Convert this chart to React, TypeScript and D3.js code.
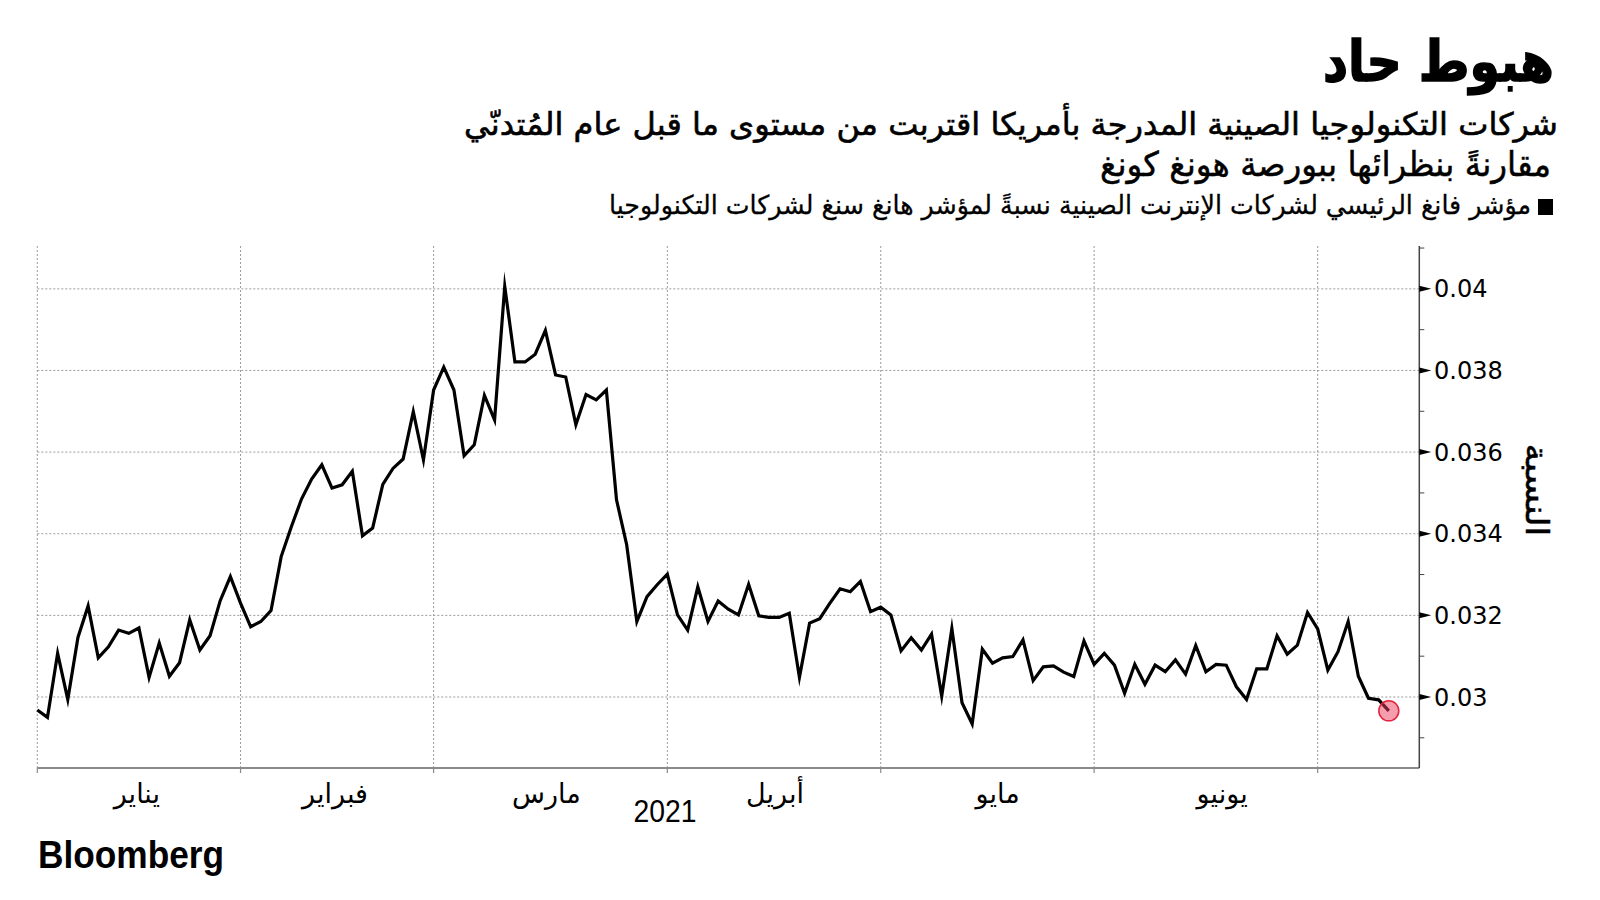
import React from 'react';
import * as d3 from 'd3';

const title = 'هبوط حاد';
const subtitle1 = 'شركات التكنولوجيا الصينية المدرجة بأمريكا اقتربت من مستوى ما قبل عام المُتدنّي';
const subtitle2 = 'مقارنةً بنظرائها ببورصة هونغ كونغ';
const legendLabel = 'مؤشر فانغ الرئيسي لشركات الإنترنت الصينية نسبةً لمؤشر هانغ سنغ لشركات التكنولوجيا';
const yTitle = 'النسبة';
const yearLabel = '2021';
const source = 'Bloomberg';

const monthLabels = ['يناير', 'فبراير', 'مارس', 'أبريل', 'مايو', 'يونيو'];
// trading-day index at which each month starts (last = start of July)
const monthStarts = [0, 20, 39, 62, 83, 104, 126];
// trading-day index of each month's midpoint (label position)
const monthMids = [9.8, 29.3, 50.1, 72.6, 94.5, 116.6];

const yTicks = [0.03, 0.032, 0.034, 0.036, 0.038, 0.04];
const yMinorTicks = [0.029, 0.031, 0.033, 0.035, 0.037, 0.039, 0.041];

const ratio = [
  0.02968, 0.02950, 0.03107, 0.02994, 0.03146, 0.03223, 0.03096, 0.03123, 0.03164, 0.03156,
  0.03169, 0.03048, 0.03132, 0.03051, 0.03084, 0.03189, 0.03115, 0.03150, 0.03236, 0.03295,
  0.03230, 0.03172, 0.03185, 0.03212, 0.03344, 0.03417, 0.03485, 0.03534, 0.03569, 0.03512,
  0.03520, 0.03553, 0.03395, 0.03414, 0.03521, 0.03560, 0.03583, 0.03699, 0.03581, 0.03752,
  0.03808, 0.03752, 0.03591, 0.03618, 0.03739, 0.03679, 0.04006, 0.03821, 0.03821, 0.03840,
  0.03898, 0.03789, 0.03784, 0.03667, 0.03741, 0.03728, 0.03752, 0.03483, 0.03373, 0.03185,
  0.03246, 0.03275, 0.03301, 0.03201, 0.03164, 0.03270, 0.03185, 0.03235, 0.03215, 0.03201,
  0.03276, 0.03199, 0.03195, 0.03195, 0.03205, 0.03048, 0.03181, 0.03192, 0.03230, 0.03265,
  0.03258, 0.03283, 0.03209, 0.03220, 0.03201, 0.03113, 0.03145, 0.03115, 0.03154, 0.03002,
  0.03168, 0.02986, 0.02934, 0.03117, 0.03083, 0.03096, 0.03099, 0.03140, 0.03040, 0.03074,
  0.03076, 0.03061, 0.03050, 0.03137, 0.03080, 0.03107, 0.03078, 0.03009, 0.03080, 0.03031,
  0.03078, 0.03062, 0.03091, 0.03056, 0.03126, 0.03062, 0.03080, 0.03078, 0.03025, 0.02994,
  0.03069, 0.03069, 0.03150, 0.03105, 0.03127, 0.03207, 0.03167, 0.03066, 0.03111, 0.03185,
  0.03051, 0.02997, 0.02993, 0.02966,
];

const W = 1600;
const H = 900;
const left = 37.3;
const right = 1419.3;
const top = 246;
const bottom = 768;

const arabicFont = '"DejaVu Sans", sans-serif';

export default function App() {
  const x = d3.scaleLinear().domain([0, 136]).range([left, right]);
  const y = d3.scaleLinear().domain([0.02826, 0.04105]).range([bottom, top]);
  const line = d3
    .line<number>()
    .x((_, i) => x(i))
    .y((d) => y(d));
  const lastI = ratio.length - 1;
  const fmt = (v: number) => String(+v.toFixed(3));

  return (
    <svg
      width={W}
      height={H}
      viewBox={`0 0 ${W} ${H}`}
      style={{ position: 'fixed', left: 0, top: 0, background: '#fff' }}
    >
      <rect x={0} y={0} width={W} height={H} fill="#fff" />

      {/* Header */}
      <text x={1554} y={81} textAnchor="end" fontFamily={arabicFont} fontWeight="bold" fontSize={56}
        textLength={231} lengthAdjust="spacingAndGlyphs" fill="#000" stroke="#000" strokeWidth={1.6}>{title}</text>
      <text x={1558} y={135} textAnchor="end" fontFamily={arabicFont} fontSize={31}
        textLength={1094} lengthAdjust="spacingAndGlyphs" fill="#000" stroke="#000" strokeWidth={0.6}>{subtitle1}</text>
      <text x={1551} y={176} textAnchor="end" fontFamily={arabicFont} fontSize={34}
        textLength={451} lengthAdjust="spacingAndGlyphs" fill="#000" stroke="#000" strokeWidth={0.5}>{subtitle2}</text>
      <rect x={1538} y={199} width={15} height={16} fill="#000" />
      <text x={1531} y={214} textAnchor="end" fontFamily={arabicFont} fontSize={26}
        textLength={922} lengthAdjust="spacingAndGlyphs" fill="#000" stroke="#000" strokeWidth={0.3}>{legendLabel}</text>

      {/* Horizontal gridlines */}
      {yTicks.map((t) => (
        <line key={'hg' + t} x1={left} x2={right} y1={y(t)} y2={y(t)}
          stroke="#9a9a9a" strokeWidth={1} strokeDasharray="2,2" />
      ))}
      {/* Vertical gridlines at month starts */}
      {monthStarts.map((m) => (
        <line key={'vg' + m} x1={x(m)} x2={x(m)} y1={top} y2={bottom}
          stroke="#9a9a9a" strokeWidth={1} strokeDasharray="2,2" />
      ))}

      {/* X axis */}
      <line x1={left} x2={right} y1={bottom} y2={bottom} stroke="#8a8a8a" strokeWidth={2} />
      {monthStarts.map((m) => (
        <line key={'xt' + m} x1={x(m)} x2={x(m)} y1={bottom} y2={bottom + 5}
          stroke="#8a8a8a" strokeWidth={1.2} />
      ))}
      {monthLabels.map((lab, i) => (
        <text key={'ml' + i} x={x(monthMids[i])} y={803}
          textAnchor="middle" fontFamily={arabicFont} fontSize={27} fill="#000">{lab}</text>
      ))}
      <text x={665} y={822} textAnchor="middle" fontFamily='"Liberation Sans", Arial, sans-serif'
        fontSize={32} textLength={63} lengthAdjust="spacingAndGlyphs" fill="#000">{yearLabel}</text>

      {/* Y axis */}
      <line x1={right} x2={right} y1={top} y2={bottom} stroke="#444" strokeWidth={1.5} />
      {yMinorTicks.map((t) => (
        <line key={'mt' + t} x1={right} x2={right + 5} y1={y(t)} y2={y(t)} stroke="#444" strokeWidth={1} />
      ))}
      {yTicks.map((t) => (
        <g key={'yt' + t}>
          <polygon
            points={`${right},${y(t) - 3} ${right + 12},${y(t)} ${right},${y(t) + 3}`}
            fill="#000"
          />
          <text x={1434} y={y(t)} dy="0.36em" fontFamily='"DejaVu Sans", Verdana, sans-serif'
            fontSize={24} fill="#000">{fmt(t)}</text>
        </g>
      ))}
      <text transform={`translate(1526,490) rotate(90)`} textAnchor="middle"
        fontFamily={arabicFont} fontSize={31} textLength={93} lengthAdjust="spacingAndGlyphs"
        fill="#000" stroke="#000" strokeWidth={0.5}>{yTitle}</text>

      {/* Data line */}
      <path d={line(ratio) || ''} fill="none" stroke="#000" strokeWidth={3.2}
        strokeLinejoin="miter" strokeMiterlimit={10} />
      <circle cx={x(lastI)} cy={y(ratio[lastI])} r={10}
        fill="rgba(235,60,90,0.5)" stroke="#e3233f" strokeWidth={1.5} />

      {/* Source */}
      <text x={38} y={868} fontFamily='"Liberation Sans", Arial, sans-serif' fontWeight="bold"
        fontSize={38} textLength={186} lengthAdjust="spacingAndGlyphs" fill="#000">{source}</text>
    </svg>
  );
}
